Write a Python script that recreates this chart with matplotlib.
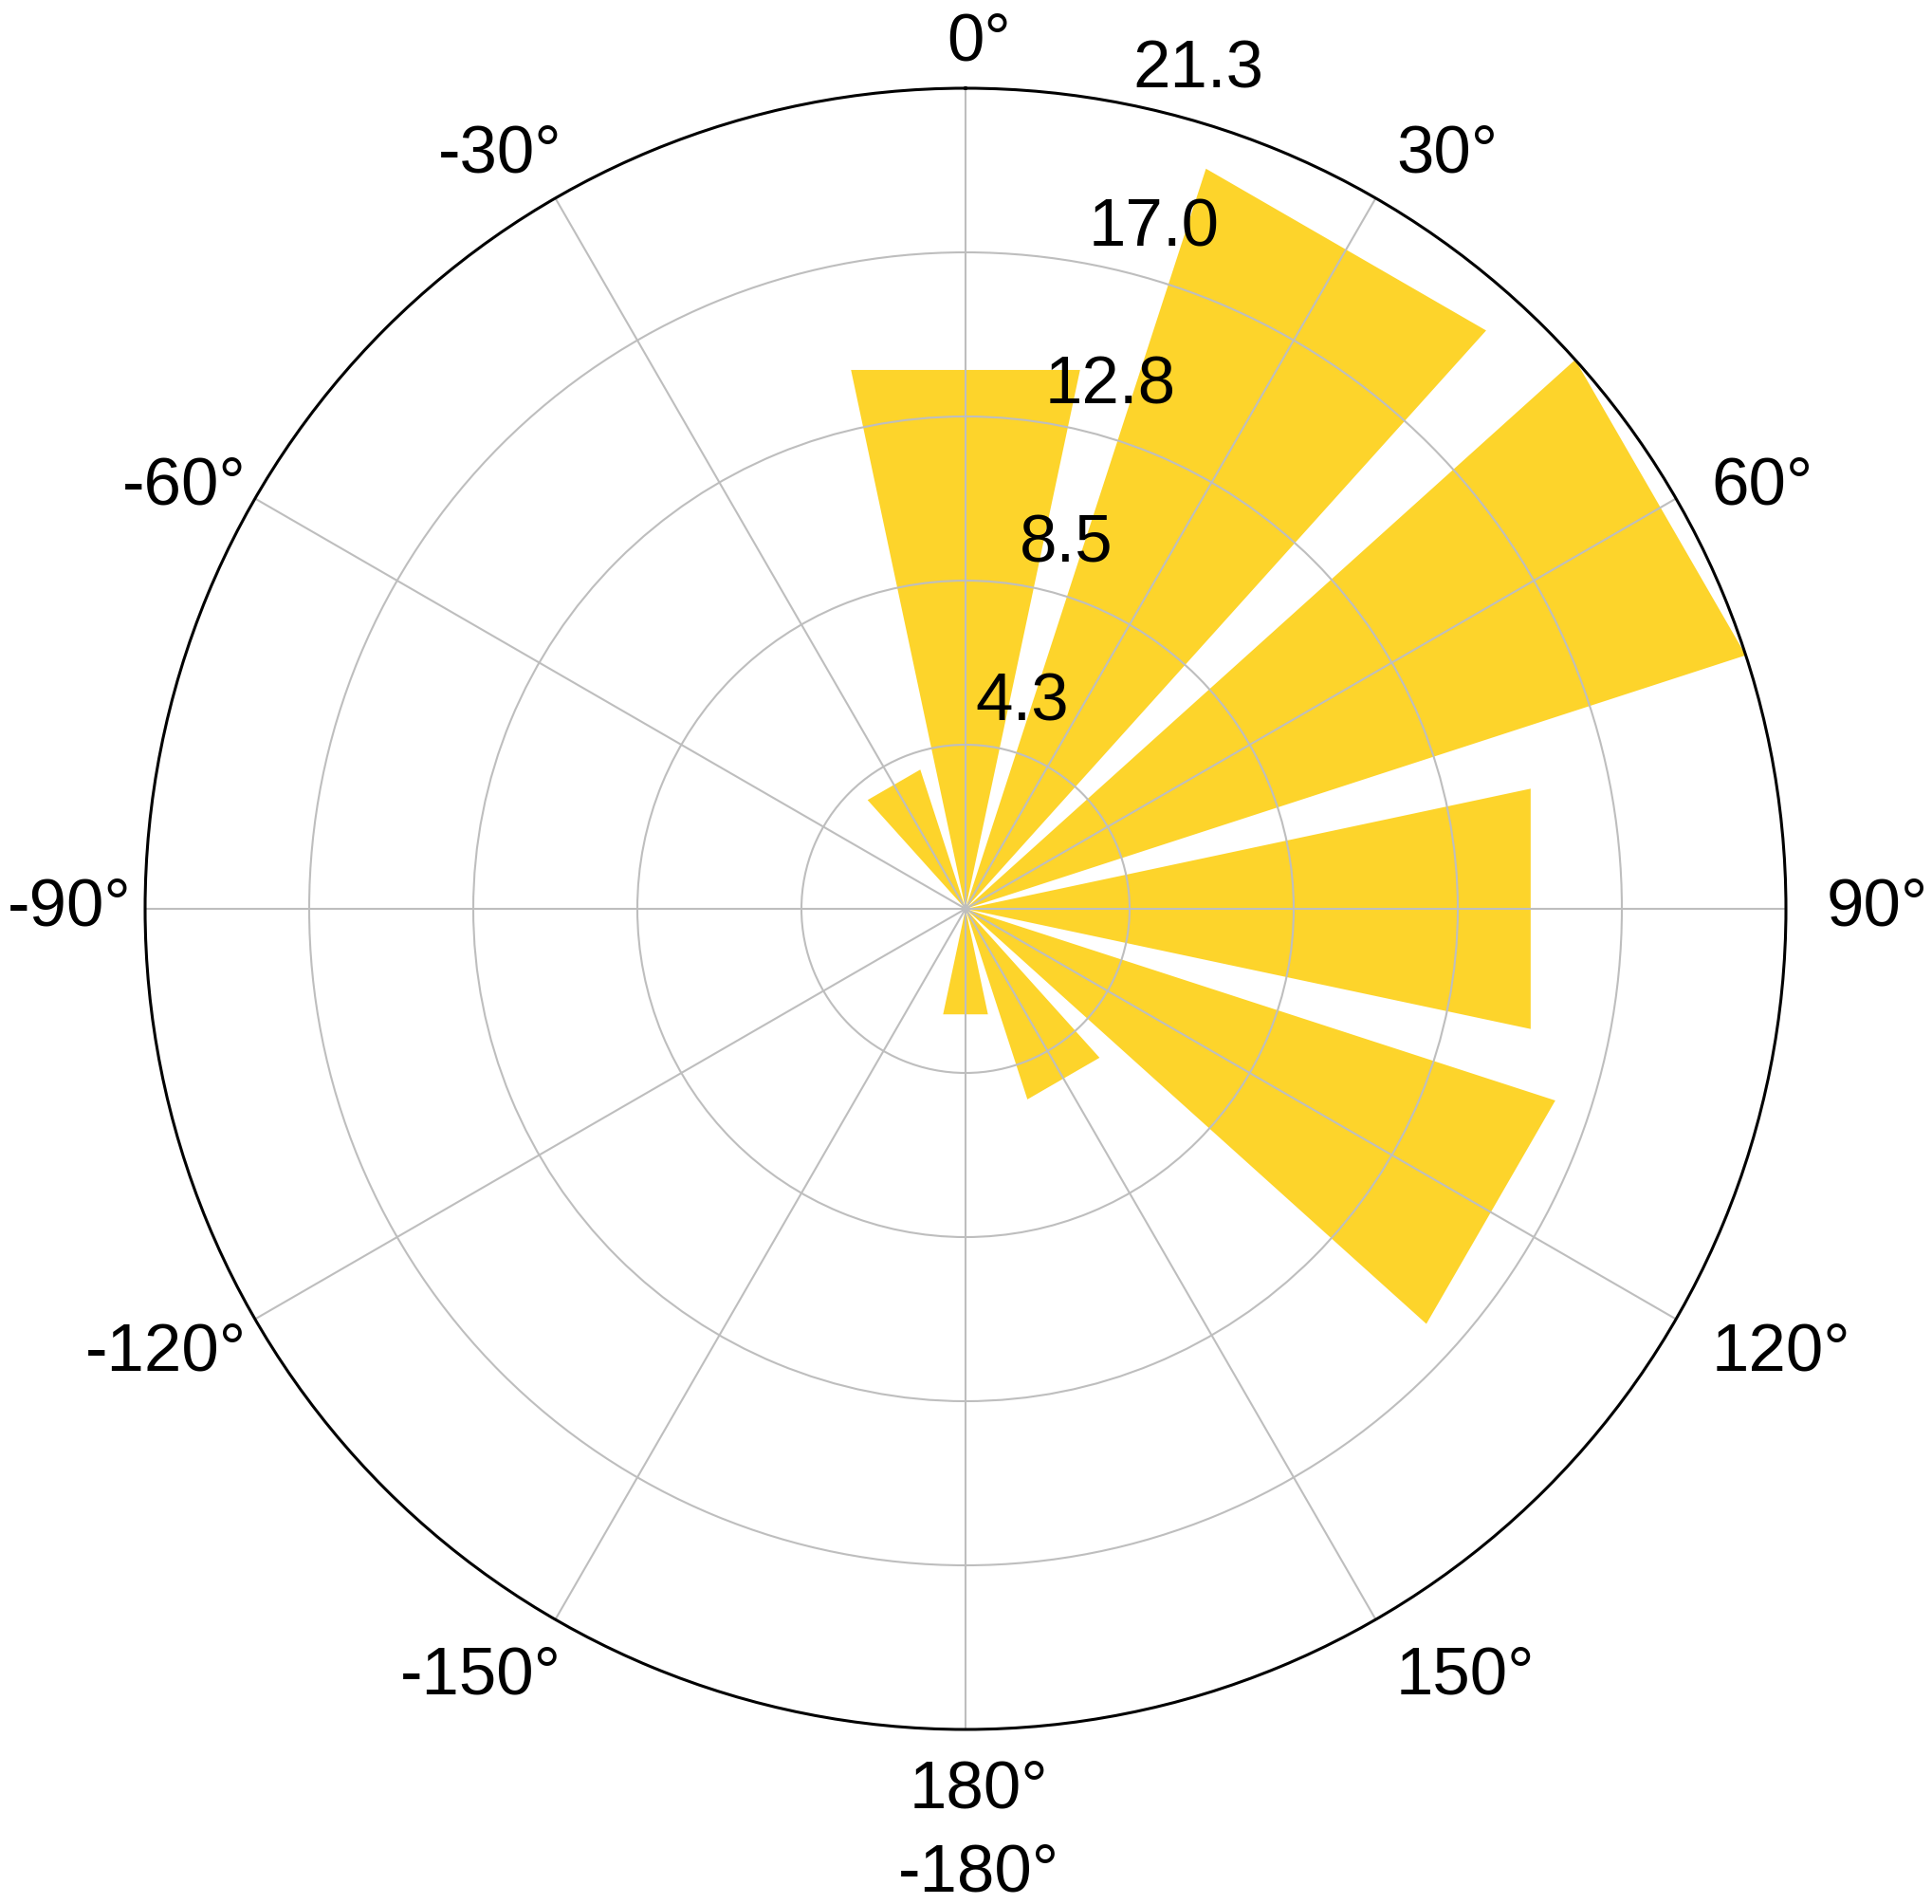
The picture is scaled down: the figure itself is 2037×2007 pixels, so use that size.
import numpy as np
import matplotlib.pyplot as plt
from matplotlib.transforms import offset_copy

plt.rcParams['font.family'] = ['Liberation Sans', 'DejaVu Sans']

# ─── Data ────────────────────────────────────────────────────────────
bin_centers_deg = [0, 30, 60, 90, 120, 150, 180, 210, 240, 270, 300, 330]
values = [14.3, 20.2, 21.3, 15.0, 16.1, 5.2, 2.8, 0.0, 0.0, 0.0, 0.0, 3.8]
theta_labels = ['0°', '30°', '60°', '90°', '120°', '150°', '180°\n-180°',
                '-150°', '-120°', '-90°', '-60°', '-30°']
r_max = 21.3
r_ticks = [r_max * k / 5 for k in range(1, 6)]
r_labels = ['4.3', '8.5', '12.8', '17.0', '21.3']

bar_width_deg = 24
bar_color = '#FDD42B'
grid_color = '#BEBEBE'
fs = 51

# ─── Figure ──────────────────────────────────────────────────────────
W, H, dpi = 2037, 2007, 100
fig = plt.figure(figsize=(W / dpi, H / dpi), dpi=dpi)
R_px = 865
ax = fig.add_axes([(1018 - R_px) / W, (H - 958 - R_px) / H, 2 * R_px / W, 2 * R_px / H],
                  projection='polar')
ax.set_theta_zero_location('N')
ax.set_theta_direction(-1)

# bars as straight-edged wedges
half = np.deg2rad(bar_width_deg / 2)
for c, v in zip(bin_centers_deg, values):
    if v <= 0:
        continue
    t = np.deg2rad(c)
    ax.fill([t - half, t - half, t + half, t + half], [0, v, v, 0],
            color=bar_color, lw=0, zorder=1)

ax.set_ylim(0, r_max)
ax.set_xticks(np.deg2rad(bin_centers_deg))
ax.set_xticklabels([])
ax.set_yticks(r_ticks[:-1])
ax.set_yticklabels([])
ax.grid(True, color=grid_color, lw=1.5)
ax.tick_params(length=0)
ax.spines['polar'].set_color('black')
ax.spines['polar'].set_linewidth(2.2)

# theta labels placed just outside the rim; degree sign hangs past the anchor
deg_w = 0.4 * fs * dpi / 72
gap_h = 43
for c, lab in zip(bin_centers_deg, theta_labels):
    a = np.deg2rad(c)
    s, co = np.sin(a), np.cos(a)
    if abs(s) < 0.05:
        ha, shift = 'center', deg_w / 2
    elif s > 0:
        ha, shift = 'left', 0
    else:
        ha, shift = 'right', deg_w
    if abs(co) < 0.6:
        va = 'center'
        gap_v = 24 if co > 0 else 72
    elif co > 0:
        va, gap_v = 'bottom', 14
    else:
        va, gap_v = 'top', 32
    tr = offset_copy(ax.transData, fig=fig, x=gap_h * s + shift, y=gap_v * co, units='dots')
    txt = ax.text(a, r_max, lab, transform=tr, ha=ha, va=va, fontsize=fs,
                  clip_on=False, linespacing=1.42)
    if '\n' in lab:
        txt.set_multialignment('center')

# radial labels
r_lab_angle = np.deg2rad(15.5)
off = 52
tr_r = offset_copy(ax.transData, fig=fig, x=off * np.sin(r_lab_angle),
                   y=off * np.cos(r_lab_angle), units='dots')
for r, lab in zip(r_ticks, r_labels):
    ax.text(r_lab_angle, r, lab, transform=tr_r, ha='center', va='center',
            fontsize=fs, clip_on=False, zorder=5)

fig.savefig('out.png', dpi=dpi, facecolor='white')
